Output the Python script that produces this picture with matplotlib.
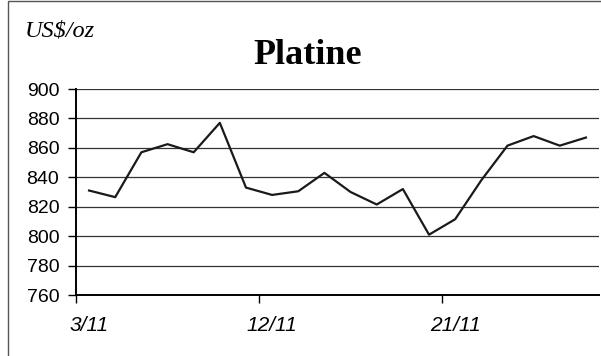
import matplotlib
matplotlib.use("Agg")
import matplotlib.pyplot as plt
from matplotlib.patches import Rectangle

# Platinum price, trading days of November
dates = ['3/11', '4/11', '5/11', '6/11', '7/11', '10/11', '11/11', '12/11', '13/11', '14/11',
         '17/11', '18/11', '19/11', '20/11', '21/11', '24/11', '25/11', '26/11', '27/11', '28/11']
prices = [831, 826.5, 857, 862.5, 857, 877, 833, 828, 830.5, 843,
          830, 821.5, 832, 801, 811.5, 838, 861.5, 868, 861.5, 867]
y_ticks = [760, 780, 800, 820, 840, 860, 880, 900]
label_every = 7

fig = plt.figure(figsize=(6.01, 3.56), dpi=100)
ax = fig.add_axes([76 / 601, 61 / 356, 523 / 601, 206 / 356])

x = list(range(len(prices)))
ax.plot(x, prices, color='#1a1a1a', linewidth=1.6, zorder=3)

ax.set_xlim(-0.5, len(prices) - 0.5)
ax.set_ylim(760, 900)
ax.set_yticks(y_ticks)
ax.set_yticklabels([str(v) for v in y_ticks], fontsize=14, family='Liberation Sans')
ax.tick_params(axis='y', length=6, width=1, direction='out', pad=6)

# tick marks between categories, labels on the categories
ax.set_xticks([i - 0.5 for i in range(0, len(prices), label_every)])
ax.set_xticklabels([])
ax.set_xticks(list(range(0, len(prices), label_every)), minor=True)
ax.set_xticklabels(dates[::label_every], minor=True, fontsize=15,
                   family='Liberation Sans', style='italic')
ax.tick_params(axis='x', which='major', length=6, width=1, direction='out')
ax.tick_params(axis='x', which='minor', length=0, pad=15)

ax.grid(axis='y', color='#333333', linewidth=0.9)
ax.set_axisbelow(True)
for side in ['top', 'right']:
    ax.spines[side].set_visible(False)
ax.spines['left'].set_linewidth(1.4)
ax.spines['bottom'].set_linewidth(1.4)

fig.text(308 / 601, (356 - 64) / 356, 'Platine', ha='center', va='baseline',
         fontsize=26, fontweight='bold', family='Liberation Serif')
fig.text(25 / 601, (356 - 37) / 356, 'US$/oz', ha='left', va='baseline',
         fontsize=17.5, style='italic', family='Liberation Serif')

# chart frame, cut off at right and bottom
fig.add_artist(Rectangle((7.5 / 601, -0.1), 1.2, (355 / 356) + 0.1,
                         transform=fig.transFigure, fill=False,
                         edgecolor='#555555', linewidth=1))

fig.savefig('out.png', dpi=100)
